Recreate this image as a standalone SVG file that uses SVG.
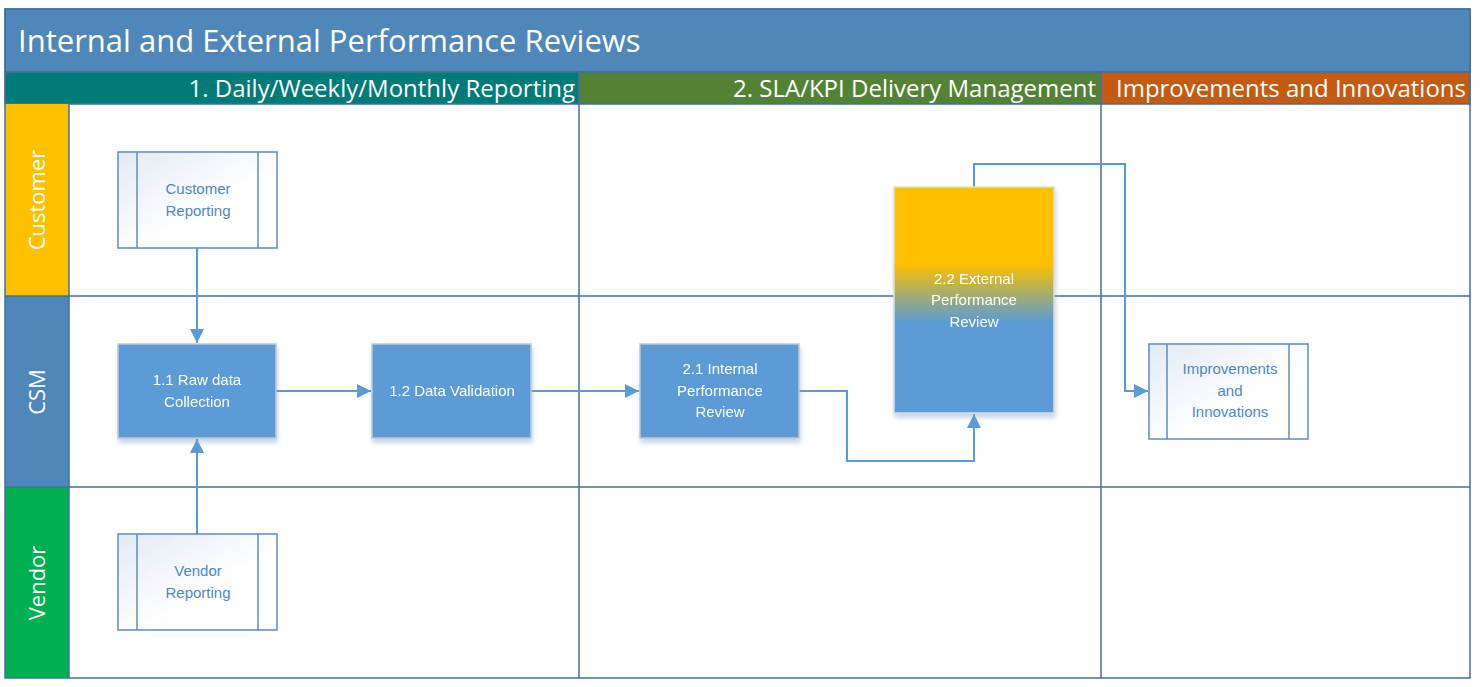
<svg xmlns="http://www.w3.org/2000/svg" width="1482" height="687" viewBox="0 0 1482 687">
<defs>
<style>
.frame{fill:none;stroke:#41719C;stroke-width:1.5}
.grid{stroke:#41719C;stroke-width:1.5;fill:none}
.conn{fill:none;stroke:#5B9BD5;stroke-width:2}
.proc{fill:#5B9BD5;stroke:#BFC9D4;stroke-width:1.5}
.sub{fill:url(#subg);stroke:#5B8CC4;stroke-width:1.5}
.subline{stroke:#5B8CC4;stroke-width:1.5}
.ntext{font-family:"Liberation Sans Narrow","Liberation Sans",Arial,sans-serif;font-size:15px;fill:#FFFFFF;text-anchor:middle}
.stext{font-family:"Liberation Sans Narrow","Liberation Sans",Arial,sans-serif;font-size:15px;fill:#4F87C4;text-anchor:middle}
.title{font-family:"Open Sans","Noto Sans",sans-serif;font-size:31px;fill:#FFFFFF}
.phase{font-family:"Open Sans","Noto Sans",sans-serif;font-size:24px;fill:#FFFFFF;text-anchor:end}
.lane{font-family:"Open Sans","Noto Sans",sans-serif;font-size:22px;fill:#FFFFFF;text-anchor:middle}
</style>
<linearGradient id="subg" x1="0" y1="0" x2="1" y2="1">
<stop offset="0" stop-color="#E3EAF5"/>
<stop offset="0.6" stop-color="#FFFFFF"/>
</linearGradient>
<linearGradient id="extg" x1="0" y1="0" x2="0" y2="1">
<stop offset="0.34" stop-color="#FFC000"/>
<stop offset="0.47" stop-color="#A9AE6A"/>
<stop offset="0.6" stop-color="#5B9BD5"/>
</linearGradient>
<filter id="shadow" x="-10%" y="-10%" width="130%" height="130%">
<feGaussianBlur in="SourceAlpha" stdDeviation="2.5"/>
<feOffset dx="1" dy="4" result="b"/>
<feFlood flood-color="#7F9CC0" flood-opacity="0.45"/>
<feComposite in2="b" operator="in"/>
<feMerge><feMergeNode/><feMergeNode in="SourceGraphic"/></feMerge>
</filter>
<marker id="arr" viewBox="0 0 10 10" refX="10" refY="5" markerWidth="7" markerHeight="7" orient="auto" markerUnits="strokeWidth">
<path d="M0,0 L10,5 L0,10 z" fill="#5B9BD5"/>
</marker>
</defs>

<g id="pool">
<rect x="5" y="104" width="1465" height="574" fill="#FFFFFF"/>
<rect x="5" y="9" width="1465" height="63" fill="#4F87BA" stroke="#41719C" stroke-width="1.5"/>
<text class="title" x="18" y="52">Internal and External Performance Reviews</text>
<rect x="5" y="72" width="574" height="32" fill="#007B77" stroke="#41719C" stroke-width="1.5"/>
<rect x="579" y="72" width="522" height="32" fill="#548235" stroke="#41719C" stroke-width="1.5"/>
<rect x="1101" y="72" width="369" height="32" fill="#C55A11" stroke="#41719C" stroke-width="1.5"/>
<text class="phase" x="575" y="97">1. Daily/Weekly/Monthly Reporting</text>
<text class="phase" x="1096" y="97">2. SLA/KPI Delivery Management</text>
<text class="phase" x="1466" y="97">Improvements and Innovations</text>
<rect x="5" y="104" width="64" height="192" fill="#FFC000"/>
<rect x="5" y="296" width="64" height="191" fill="#4F87BA"/>
<rect x="5" y="487" width="64" height="191" fill="#00B050"/>
<text class="lane" transform="translate(45,200) rotate(-90)">Customer</text>
<text class="lane" transform="translate(45,392) rotate(-90)">CSM</text>
<text class="lane" transform="translate(45,583) rotate(-90)">Vendor</text>
<line class="grid" x1="5" y1="296" x2="1470" y2="296"/>
<line class="grid" x1="5" y1="487" x2="1470" y2="487"/>
<line class="grid" x1="69" y1="104" x2="69" y2="678"/>
<line class="grid" x1="579" y1="104" x2="579" y2="678"/>
<line class="grid" x1="1101" y1="104" x2="1101" y2="678"/>
<rect class="frame" x="5" y="9" width="1465" height="669"/>
</g>

<g id="connectors">
<path class="conn" d="M197,248 L197,343" marker-end="url(#arr)"/>
<path class="conn" d="M197,534 L197,439" marker-end="url(#arr)"/>
<path class="conn" d="M276,391 L371,391" marker-end="url(#arr)"/>
<path class="conn" d="M531,391 L639,391" marker-end="url(#arr)"/>
<path class="conn" d="M799,391 L847,391 L847,461 L974,461 L974,414" marker-end="url(#arr)"/>
<path class="conn" d="M974,187 L974,164 L1125,164 L1125,391 L1148,391" marker-end="url(#arr)"/>
</g>

<g id="customer-reporting">
<rect class="sub" x="118" y="152" width="159" height="96"/>
<line class="subline" x1="137" y1="152" x2="137" y2="248"/>
<line class="subline" x1="258" y1="152" x2="258" y2="248"/>
<text class="stext" x="198" y="194">Customer</text>
<text class="stext" x="198" y="216">Reporting</text>
</g>

<g id="raw-data-collection" filter="url(#shadow)">
<rect class="proc" x="118" y="344" width="158" height="94"/>
<text class="ntext" x="197" y="385">1.1 Raw data</text>
<text class="ntext" x="197" y="407">Collection</text>
</g>

<g id="data-validation" filter="url(#shadow)">
<rect class="proc" x="372" y="344" width="159" height="94"/>
<text class="ntext" x="452" y="396">1.2 Data Validation</text>
</g>

<g id="internal-review" filter="url(#shadow)">
<rect class="proc" x="640" y="344" width="159" height="94"/>
<text class="ntext" x="720" y="374">2.1 Internal</text>
<text class="ntext" x="720" y="396">Performance</text>
<text class="ntext" x="720" y="417">Review</text>
</g>

<g id="external-review" filter="url(#shadow)">
<rect x="894" y="187" width="160" height="226" fill="url(#extg)" stroke="#D9DDE3" stroke-width="1.5"/>
<text class="ntext" x="974" y="284">2.2 External</text>
<text class="ntext" x="974" y="305">Performance</text>
<text class="ntext" x="974" y="327">Review</text>
</g>

<g id="improvements">
<rect class="sub" x="1149" y="344" width="159" height="95"/>
<line class="subline" x1="1167" y1="344" x2="1167" y2="439"/>
<line class="subline" x1="1289" y1="344" x2="1289" y2="439"/>
<text class="stext" x="1230" y="374">Improvements</text>
<text class="stext" x="1230" y="396">and</text>
<text class="stext" x="1230" y="417">Innovations</text>
</g>

<g id="vendor-reporting">
<rect class="sub" x="118" y="534" width="159" height="96"/>
<line class="subline" x1="137" y1="534" x2="137" y2="630"/>
<line class="subline" x1="258" y1="534" x2="258" y2="630"/>
<text class="stext" x="198" y="576">Vendor</text>
<text class="stext" x="198" y="598">Reporting</text>
</g>
</svg>
